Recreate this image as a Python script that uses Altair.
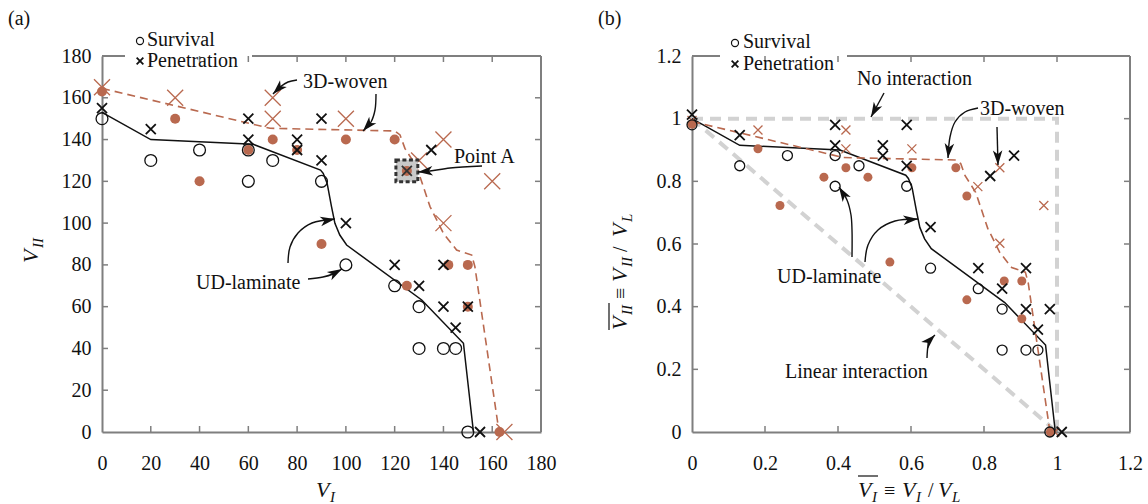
import math
import altair as alt
import pandas as pd

FONT = "Liberation Serif, Times New Roman, serif"
BROWN = "#b9694f"
INK = "#111111"
FRAME = "#7f7f7f"
REF = "#d2d2d2"

# ---- impact tests, absolute velocities (panel a) ----
# UD-laminate: survival (open circles) and penetration (crosses)
ud_surv_vi = [0, 20, 40, 60, 60, 70, 90, 100, 120, 130, 130, 140, 145, 150]
ud_surv_vii = [150, 130, 135, 120, 135, 130, 120, 80, 70, 60, 40, 40, 40, 0]
ud_pen_vi = [0, 20, 60, 60, 80, 80, 90, 90, 100, 120, 125, 130, 135, 140, 140, 145, 150, 155]
ud_pen_vii = [155, 145, 150, 140, 140, 135, 150, 130, 100, 80, 125, 70, 135, 80, 60, 50, 60, 0]
# 3D-woven: survival (filled dots) and penetration (large crosses)
wv_surv_vi = [0, 30, 40, 60, 70, 80, 90, 100, 120, 125, 125, 142, 150, 150, 163]
wv_surv_vii = [163, 150, 120, 135, 140, 135, 90, 140, 140, 125, 70, 80, 80, 60, 0]
wv_pen_vi = [0, 30, 70, 70, 100, 130, 140, 140, 160, 165]
wv_pen_vii = [165, 160, 160, 150, 150, 130, 140, 100, 120, 0]

# highlighted test
point_a_vi = [125]
point_a_vii = [125]

# ballistic-limit envelopes
ud_env_vi = [0, 20, 62, 89.6, 90.7, 92.3, 94.1, 95.5, 97.5, 100.3, 131.1, 148.2, 152.3]
ud_env_vii = [153, 140, 137.7, 125.4, 123.8, 119.1, 107.9, 99.9, 94.3, 89.5, 63.2, 42.5, 0]
wv_env_vi = [0, 68.9, 120.1, 122.2, 124.2, 129, 134.5, 140, 145.4, 151.6, 152.9, 162.8]
wv_env_vii = [164.5, 145.4, 144.1, 142.2, 135.8, 127, 107.9, 95.1, 87.1, 84.7, 79.1, 0]

# limit velocities used for normalisation (panel b)
VL_UD = 153.0
VL_3D = 166.0

# interaction references (normalised)
no_int_x = [0, 1, 1]
no_int_y = [1, 1, 0]
lin_int_x = [0, 1]
lin_int_y = [1, 0]

ticks_a = [0, 20, 40, 60, 80, 100, 120, 140, 160, 180]
ticks_b = [0, 0.2, 0.4, 0.6, 0.8, 1.0, 1.2]

W_A, W_B, H = 439, 438, 376
SPACING = 151

X_SHAPE = "M-1,-1L1,1M-1,1L1,-1"
HEAD = "M0,0L0.55,1.7L0,1.25L-0.55,1.7Z"

PX = alt.X("px:Q", scale=None, axis=None)
PY = alt.Y("py:Q", scale=None, axis=None)
ONE = pd.DataFrame({"k": [0]})


def table(xs, ys, div=1.0):
    return pd.DataFrame({"x": [v / div for v in xs], "y": [v / div for v in ys],
                         "i": list(range(len(xs)))})


def encodings(dom, ticks, fmt):
    common = dict(domainColor=FRAME, domainWidth=2, ticks=False, grid=False,
                  labelFont=FONT, labelFontSize=20, labelColor=INK,
                  labelFlush=False, labelOverlap=False, title=None,
                  format=fmt, values=ticks)
    sc = alt.Scale(domain=dom, nice=False, zero=False)
    return (alt.X("x:Q", scale=sc, axis=alt.Axis(labelPadding=21, **common)),
            alt.Y("y:Q", scale=sc, axis=alt.Axis(labelPadding=11, **common)))


def texts(rows, style="normal", angle=0):
    df = pd.DataFrame(rows, columns=["t", "px", "py", "fs"])
    return alt.Chart(df).mark_text(font=FONT, fontStyle=style, angle=angle, align="left",
                                   baseline="alphabetic", color=INK).encode(
        x=PX, y=PY, text="t:N", size=alt.Size("fs:Q", scale=None))


def arrows(paths):
    line_rows, head_rows = [], []
    for k, path in enumerate(paths):
        for i, (x, y) in enumerate(path):
            line_rows.append({"px": x, "py": y, "seg": k, "i": i})
        (x0, y0), (x1, y1) = path[-2], path[-1]
        ang = math.degrees(math.atan2(x1 - x0, -(y1 - y0))) % 360
        head_rows.append({"px": x1, "py": y1, "ang": ang})
    lines = alt.Chart(pd.DataFrame(line_rows)).mark_line(
        color=INK, strokeWidth=1.4, interpolate="catmull-rom").encode(
        x=PX, y=PY, detail="seg:N", order="i:O")
    heads = alt.Chart(pd.DataFrame(head_rows)).mark_point(
        shape=HEAD, filled=True, color=INK, opacity=1, size=300).encode(
        x=PX, y=PY, angle=alt.Angle("ang:Q", scale=None))
    return [lines, heads]


def panel(p):
    W = p["W"]
    X, Y = encodings(p["dom"], p["ticks"], p["fmt"])
    layers = []
    for xs, ys in p.get("refs", []):
        layers.append(alt.Chart(table(xs, ys)).mark_line(
            color=REF, strokeWidth=4, strokeDash=[11, 7]).encode(x=X, y=Y, order="i:O"))

    # frame with a gap for the legend, and inward ticks
    g0, g1 = p["gap"]
    fr = alt.Chart(ONE).mark_rule(color=FRAME, strokeWidth=2)
    layers += [
        fr.encode(x=alt.value(0), x2=alt.value(g0), y=alt.value(0)),
        fr.encode(x=alt.value(g1), x2=alt.value(W), y=alt.value(0)),
        fr.encode(x=alt.value(W), y=alt.value(0), y2=alt.value(H)),
    ]
    inner = pd.DataFrame({"x": p["ticks"][1:-1], "y": p["ticks"][1:-1]})
    tk = alt.Chart(inner).mark_rule(color=FRAME, strokeWidth=1.5)
    layers += [
        tk.encode(x=X, y=alt.value(H), y2=alt.value(H - 6)),
        tk.encode(x=X, y=alt.value(0), y2=alt.value(6)),
        tk.encode(y=Y, x=alt.value(0), x2=alt.value(6)),
        tk.encode(y=Y, x=alt.value(W), x2=alt.value(W - 6)),
    ]

    du, dw = p["div_ud"], p["div_3d"]
    layers += [
        alt.Chart(table(ud_env_vi, ud_env_vii, du)).mark_line(
            color=INK, strokeWidth=1.5).encode(x=X, y=Y, order="i:O"),
        alt.Chart(table(wv_env_vi, wv_env_vii, dw)).mark_line(
            color=BROWN, strokeWidth=1.6, strokeDash=[8, 5]).encode(x=X, y=Y, order="i:O"),
    ]
    s = p["sizes"]
    layers += [
        alt.Chart(table(wv_surv_vi, wv_surv_vii, dw)).mark_point(
            shape="circle", filled=True, color=BROWN, opacity=1, size=s["dot"]).encode(x=X, y=Y),
        alt.Chart(table(wv_pen_vi, wv_pen_vii, dw)).mark_point(
            shape=X_SHAPE, filled=False, color=BROWN, opacity=1, strokeWidth=1.3,
            size=s["bx"]).encode(x=X, y=Y),
        alt.Chart(table(ud_surv_vi, ud_surv_vii, du)).mark_point(
            shape="circle", filled=False, color=INK, opacity=1, strokeWidth=1.3,
            size=s["circ"]).encode(x=X, y=Y),
        alt.Chart(table(ud_pen_vi, ud_pen_vii, du)).mark_point(
            shape=X_SHAPE, filled=False, color=INK, opacity=1, strokeWidth=1.8,
            size=s["kx"]).encode(x=X, y=Y),
    ]
    if p.get("point_a"):
        pa = table(point_a_vi, point_a_vii)
        layers += [
            alt.Chart(pa).mark_square(size=480, fill="#c9c9c9", fillOpacity=1, stroke="#333333",
                                      strokeWidth=3, strokeDash=[4, 2.5]).encode(x=X, y=Y),
            alt.Chart(pa).mark_point(shape="circle", filled=True, color=BROWN, opacity=1,
                                     size=s["dot"]).encode(x=X, y=Y),
            alt.Chart(pa).mark_point(shape=X_SHAPE, filled=False, color="#333333", opacity=1,
                                     strokeWidth=1.8, size=s["kx"]).encode(x=X, y=Y),
        ]

    layers += arrows(p["arrows"])

    # legend
    (cx, cy), (kx, ky) = p["legend_marks"]
    lg = pd.DataFrame({"px": [cx], "py": [cy]})
    lk = pd.DataFrame({"px": [kx], "py": [ky]})
    layers += [
        alt.Chart(lg).mark_point(shape="circle", filled=False, color=INK, opacity=1,
                                 strokeWidth=1.2, size=50).encode(x=PX, y=PY),
        alt.Chart(lk).mark_point(shape=X_SHAPE, filled=False, color=INK, opacity=1,
                                 strokeWidth=1.8, size=45).encode(x=PX, y=PY),
    ]

    layers.append(texts(p["labels"]))
    layers.append(texts(p["italic"], style="italic"))
    if p.get("rot_italic"):
        layers.append(texts(p["rot_italic"], style="italic", angle=270))
    if p.get("rot_normal"):
        layers.append(texts(p["rot_normal"], angle=270))
    for (x1, y1, x2, y2) in p.get("bars", []):
        layers.append(alt.Chart(ONE).mark_rule(color=INK, strokeWidth=1.2).encode(
            x=alt.value(x1), x2=alt.value(x2), y=alt.value(y1), y2=alt.value(y2)))
    if p.get("anchor"):
        ax, ay = p["anchor"]
        layers.append(alt.Chart(ONE).mark_rule(strokeOpacity=0, strokeWidth=1).encode(
            x=alt.value(ax), x2=alt.value(ax + 1), y=alt.value(ay)))
    return alt.layer(*layers).properties(width=W, height=H)


panel_a = panel(dict(
    W=W_A, dom=[0, 180], ticks=ticks_a, fmt="d", gap=(23, 150), div_ud=1.0, div_3d=1.0,
    sizes=dict(dot=100, bx=256, circ=140, kx=100), point_a=True,
    arrows=[
        [(195, 24), (186, 26), (178, 31), (171, 38)],
        [(274, 38), (273, 54), (269, 66), (261, 75)],
        [(380, 110), (348, 112), (328, 115), (316, 116)],
        [(206, 223), (221, 221), (231, 218), (240, 213)],
        [(186, 207), (188, 191), (196, 177), (210, 167), (233, 163)],
    ],
    legend_marks=((38, -15), (38, 5)),
    labels=[
        ("(a)", -94, -31, 20),
        ("Survival", 45, -10, 20),
        ("Penetration", 45, 11, 20),
        ("3D-woven", 201, 32, 20),
        ("Point A", 352, 107, 20),
        ("UD-laminate", 94, 233, 20),
    ],
    italic=[("V", 214, 441, 22), ("I", 228, 446, 15)],
    rot_italic=[("V", -64, 207, 22), ("II", -59, 192, 15)],
    anchor=(-101.5, -55.5),
))

panel_b = panel(dict(
    W=W_B, dom=[0, 1.2], ticks=ticks_b, fmt="~g", gap=(28, 155), div_ud=VL_UD, div_3d=VL_3D,
    sizes=dict(dot=81, bx=81, circ=100, kx=100),
    refs=[(no_int_x, no_int_y), (lin_int_x, lin_int_y)],
    arrows=[
        [(192, 37), (179, 61)],
        [(286, 52), (273, 56), (263, 66), (258, 81), (256, 102)],
        [(305, 71), (306, 109)],
        [(160, 201), (160, 174), (159, 159), (155, 144), (147, 131)],
        [(173, 206), (176, 189), (186, 174), (203, 165), (226, 163)],
        [(235, 302), (236, 290), (238, 284), (243, 279)],
    ],
    legend_marks=((43, -13), (43, 8)),
    labels=[
        ("(b)", -94, -31, 20),
        ("Survival", 51, -8, 20),
        ("Penetration", 51, 14, 20),
        ("No interaction", 165, 29, 20),
        ("3D-woven", 288, 59, 20),
        ("UD-laminate", 85, 227, 20),
        ("Linear interaction", 93, 322, 20),
        ("\u2261", 192, 441, 20),
        ("/", 236, 441, 20),
    ],
    italic=[("V", 166, 441, 22), ("I", 180, 446, 15),
            ("V", 210, 441, 22), ("I", 224, 446, 15),
            ("V", 246, 441, 22), ("L", 260, 446, 15)],
    rot_italic=[("V", -65, 274, 22), ("II", -60, 259, 15),
                ("V", -65, 226, 22), ("II", -60, 211, 15),
                ("V", -65, 181, 22), ("L", -60, 166, 15)],
    rot_normal=[("\u2261", -65, 243, 20), ("/", -65, 196, 20)],
    bars=[(166, 420, 186, 420), (-83, 274, -83, 247)],
))

chart = alt.hconcat(panel_a, panel_b, spacing=SPACING, bounds="flush").properties(
    padding={"left": 0, "top": 0, "right": 0, "bottom": 0}
).configure_view(stroke=None)

chart.save("out.html", embed_options={"renderer": "svg", "actions": False})
